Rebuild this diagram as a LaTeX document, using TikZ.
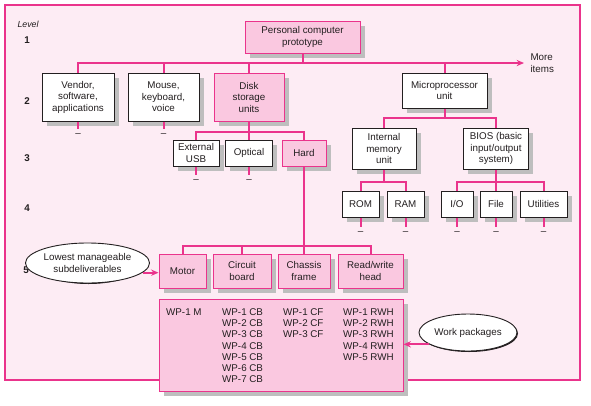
\documentclass[tikz,border=0pt]{standalone}
\usepackage{fontspec}
\setmainfont{Liberation Sans}
\usetikzlibrary{positioning,arrows.meta,shapes.geometric}
\definecolor{WbsPink}{RGB}{234,52,140}
\definecolor{PaperPink}{RGB}{253,236,244}
\definecolor{BoxPink}{RGB}{250,200,224}
\definecolor{DropGray}{RGB}{190,190,190}
\definecolor{InkGray}{RGB}{35,31,32}
\newcommand{\wbsfont}{\fontsize{9.8}{11.5}\selectfont}
\tikzset{
  link/.style={line width=2pt,draw=WbsPink},
  pointer/.style={-{Stealth[length=2.6mm,width=2.2mm]},line width=2pt,draw=WbsPink},
  dropbox/.style={rectangle,fill=DropGray,draw=none,inner sep=0pt,outer sep=0pt},
  dropbubble/.style={ellipse,fill=InkGray,draw=none,inner sep=0pt,outer sep=0pt},
  wbox/.style={draw=InkGray,fill=white,line width=1pt,align=center,inner sep=1pt,
    text=InkGray,font=\wbsfont},
  pbox/.style={wbox,draw=WbsPink,fill=BoxPink},
  notebubble/.style={ellipse,draw=InkGray,fill=white,line width=0.9pt,align=center,
    inner sep=0pt,text=InkGray,font=\wbsfont},
  levelnum/.style={font=\bfseries\wbsfont,text=InkGray},
  wplist/.style={anchor=north west,inner sep=0pt,align=left,text=InkGray,
    font=\fontsize{9.8}{11.2}\selectfont},
  dashtick/.style={inner sep=0pt,text=InkGray,font=\wbsfont}
}
% box with its grey drop shadow: style, name, x, y, width, height, text
\newcommand{\wbsbox}[7]{%
  \node[dropbox,minimum width=#5pt,minimum height=#6pt] (#2sh) at (#3+4.5,#4+4.5) {};
  \node[#1,minimum width=#5pt,minimum height=#6pt] (#2) at (#3,#4) {#7};}

\begin{document}
\begin{tikzpicture}[x=1pt,y=-1pt]
  \useasboundingbox (0,0) rectangle (591,405);
  \draw[draw=WbsPink,fill=PaperPink,line width=1.2pt] (5,5) rectangle (580,380);

  % level column
  \node[anchor=west,text=InkGray,font=\itshape\fontsize{8.8}{10}\selectfont] (levelhead) at (14,24) {Level};
  \node[levelnum] (lv1) at (27,40) {1};
  \node[levelnum] (lv2) at (27,101) {2};
  \node[levelnum] (lv3) at (27,158) {3};
  \node[levelnum] (lv4) at (27,208) {4};
  \node[levelnum] (lv5) at (26,270) {5};

  % level 1 and 2
  \wbsbox{pbox}{root}{302.5}{37}{115}{32}{Personal computer\\prototype}
  \wbsbox{wbox}{vendor}{78}{97}{72}{48}{Vendor,\\software,\\applications}
  \wbsbox{wbox}{mouse}{163.5}{97}{71}{48}{Mouse,\\keyboard,\\voice}
  \wbsbox{pbox}{disk}{249}{97}{70}{48}{Disk\\storage\\units}
  \wbsbox{wbox}{micro}{444.5}{90.5}{85}{35}{Microprocessor\\unit}
  \node[anchor=west,align=left,text=InkGray,font=\wbsfont] (more) at (527,63) {More\\items};

  % level 3
  \wbsbox{wbox}{usb}{196}{153}{46}{26}{External\\USB}
  \wbsbox{wbox}{optical}{249}{153}{47}{26}{Optical}
  \wbsbox{pbox}{hard}{304}{153}{44}{26}{Hard}
  \wbsbox{wbox}{memory}{384}{148.5}{64}{41}{Internal\\memory\\unit}
  \wbsbox{wbox}{bios}{496}{148.5}{65}{41}{BIOS (basic\\input/output\\system)}

  % level 4
  \wbsbox{wbox}{rom}{360.5}{204}{37}{26}{ROM}
  \wbsbox{wbox}{ram}{405.5}{204}{37}{26}{RAM}
  \wbsbox{wbox}{io}{457}{204}{32}{26}{I/O}
  \wbsbox{wbox}{file}{496}{204}{32}{26}{File}
  \wbsbox{wbox}{util}{543.5}{204}{47}{26}{Utilities}

  % level 5
  \wbsbox{pbox}{motor}{182.5}{271}{47}{34}{Motor}
  \wbsbox{pbox}{circuit}{242}{271}{58}{34}{Circuit\\board}
  \wbsbox{pbox}{chassis}{304}{271}{52}{34}{Chassis\\frame}
  \wbsbox{pbox}{rwhead}{370.5}{271}{65}{34}{Read/write\\head}

  % work packages
  \wbsbox{pbox}{wpbox}{281}{345}{244}{92}{}
  \node[wplist] (wpm) at (166,308.5) {WP-1 M};
  \node[wplist] (wpcb) at (222,308.5) {WP-1 CB\\WP-2 CB\\WP-3 CB\\WP-4 CB\\WP-5 CB\\WP-6 CB\\WP-7 CB};
  \node[wplist] (wpcf) at (283,308.5) {WP-1 CF\\WP-2 CF\\WP-3 CF};
  \node[wplist] (wprwh) at (343,308.5) {WP-1 RWH\\WP-2 RWH\\WP-3 RWH\\WP-4 RWH\\WP-5 RWH};

  \node[dropbubble,minimum width=105pt,minimum height=40pt] (lowestsh) at (88.5,264) {};
  \node[notebubble,minimum width=105pt,minimum height=40pt] (lowest) at (87.5,263) {Lowest manageable\\subdeliverables};
  \node[dropbubble,minimum width=98pt,minimum height=37pt] (worksh) at (469,333.5) {};
  \node[notebubble,minimum width=98pt,minimum height=37pt] (work) at (468,332.5) {Work packages};

  % connectors
  \draw[pointer,shorten >=3pt] (vendor.north) |- (more.west);
  \draw[link] (root.south) -- (root.south |- more.west);
  \draw[link] (mouse.north) -- (mouse.north |- more.west);
  \draw[link] (disk.north) -- (disk.north |- more.west);
  \draw[link] (micro.north) -- (micro.north |- more.west);

  \draw[link] (usb.north) -- ++(0,-8) -| (hard.north);
  \draw[link] (disk.south) -- ++(0,11);
  \draw[link] (optical.north) -- ++(0,-8);

  \draw[link] (memory.north) -- ++(0,-10) -| (bios.north);
  \draw[link] (micro.south) -- ++(0,10);
  \draw[link] (rom.north) -- ++(0,-9) -| (ram.north);
  \draw[link] (memory.south) -- ++(0,13);
  \draw[link] (io.north) -- ++(0,-9) -| (util.north);
  \draw[link] (bios.south) -- ++(0,13);
  \draw[link] (file.north) -- ++(0,-9);

  \draw[link] (motor.north) -- ++(0,-8) -| (rwhead.north);
  \draw[link] (hard.south) -- (chassis.north);
  \draw[link] (circuit.north) -- ++(0,-8);

  % open branches
  \draw[link] (vendor.south) -- ++(0,7) node[dashtick,below=4pt] (vendord) {--};
  \draw[link] (mouse.south) -- ++(0,7) node[dashtick,below=4pt] (moused) {--};
  \draw[link] (usb.south) -- ++(0,8) node[dashtick,below=4pt] (usbd) {--};
  \draw[link] (optical.south) -- ++(0,8) node[dashtick,below=4pt] (opticald) {--};
  \draw[link] (rom.south) -- ++(0,9) node[dashtick,below=4pt] (romd) {--};
  \draw[link] (ram.south) -- ++(0,9) node[dashtick,below=4pt] (ramd) {--};
  \draw[link] (io.south) -- ++(0,9) node[dashtick,below=4pt] (iod) {--};
  \draw[link] (file.south) -- ++(0,9) node[dashtick,below=4pt] (filed) {--};
  \draw[link] (util.south) -- ++(0,9) node[dashtick,below=4pt] (utild) {--};

  \draw[pointer] (lowest.-10) -- (lowest.-10 -| motor.west);
  \draw[pointer] (work.197) -- (work.197 -| wpbox.east);
\end{tikzpicture}
\end{document}
